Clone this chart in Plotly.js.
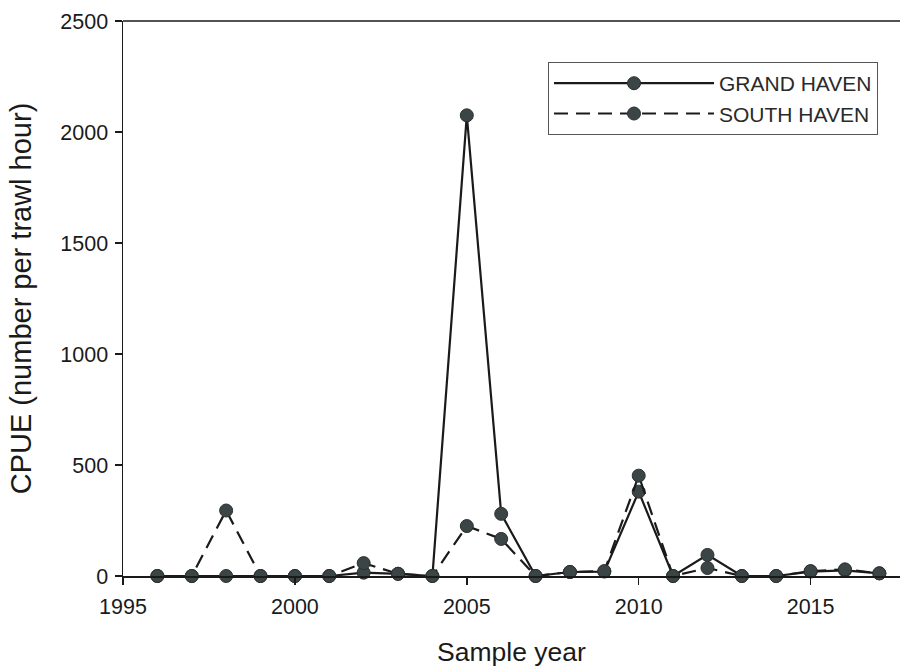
<!DOCTYPE html>
<html>
<head>
<meta charset="utf-8">
<script src="https://cdn.plot.ly/plotly-3.0.1.min.js"></script>
<style>html,body{margin:0;padding:0;background:#fff;}#chart{width:902px;height:667px;}</style>
</head>
<body>
<div id="chart"></div>
<script>
const years = [1996,1997,1998,1999,2000,2001,2002,2003,2004,2005,2006,2007,2008,2009,2010,2011,2012,2013,2014,2015,2016,2017];
const grandHaven = [0,0,0,0,0,0,15,10,0,2075,280,0,18,20,380,0,95,0,0,20,25,12];
const southHaven = [0,0,295,0,0,0,58,10,0,225,167,0,18,22,452,0,36,0,0,22,30,12];
const seriesNames = ["GRAND HAVEN","SOUTH HAVEN"];
const xTicks = [1995,2000,2005,2010,2015];
const yTicks = [0,500,1000,1500,2000,2500];

const font = "Liberation Sans, Arial, sans-serif";
const markerStyle = {symbol:"circle", size:13, color:"#3c4545", line:{color:"#2a2f2f", width:1}};

const traces = [
  {x: years, y: grandHaven, name: seriesNames[0], type:"scatter", mode:"lines+markers",
   line:{color:"#1a1a1a", width:2.2}, marker: markerStyle, cliponaxis:false},
  {x: years, y: southHaven, name: seriesNames[1], type:"scatter", mode:"lines+markers",
   line:{color:"#1a1a1a", width:2.2, dash:"14px,8px"}, marker: markerStyle, cliponaxis:false}
];

const layout = {
  width: 902, height: 667,
  margin: {l:123, r:2, t:21, b:91},
  paper_bgcolor:"#fff", plot_bgcolor:"#fff",
  font: {family: font, color:"#1a1a1a", size:21},
  showlegend: true,
  legend: {x:0.547, y:0.926, xanchor:"left", yanchor:"top",
    bordercolor:"#555", borderwidth:1, bgcolor:"#fff",
    font:{family:font, size:21, color:"#2a2a2a"}, itemwidth:160, tracegroupgap:0},
  xaxis: {range:[1995, 2017.6], tickvals: xTicks, ticktext: xTicks.map(String),
    showgrid:false, zeroline:false, showline:true, linecolor:"#1a1a1a", linewidth:1.5,
    ticks:"outside", ticklen:7, tickwidth:1.5, tickcolor:"#1a1a1a", ticklabelstandoff:4,
    tickfont:{family:font, size:21.5},
    title:{text:"Sample year", font:{family:font, size:26.5}, standoff:24}},
  yaxis: {range:[0,2500], tickvals: yTicks, ticktext: yTicks.map(String),
    showgrid:false, zeroline:false, showline:true, linecolor:"#1a1a1a", linewidth:1.5,
    ticks:"outside", ticklen:7, tickwidth:1.5, tickcolor:"#1a1a1a", ticklabelstandoff:2,
    tickfont:{family:font, size:21.5},
    title:{text:"CPUE (number per trawl hour)", font:{family:font, size:29}, standoff:20}},
  shapes: [
    {type:"line", xref:"paper", yref:"paper", x0:0, x1:1, y0:1, y1:1,
     line:{color:"#1a1a1a", width:1.5}}
  ]
};

Plotly.newPlot("chart", traces, layout, {displayModeBar:false, staticPlot:true});
</script>
</body>
</html>
